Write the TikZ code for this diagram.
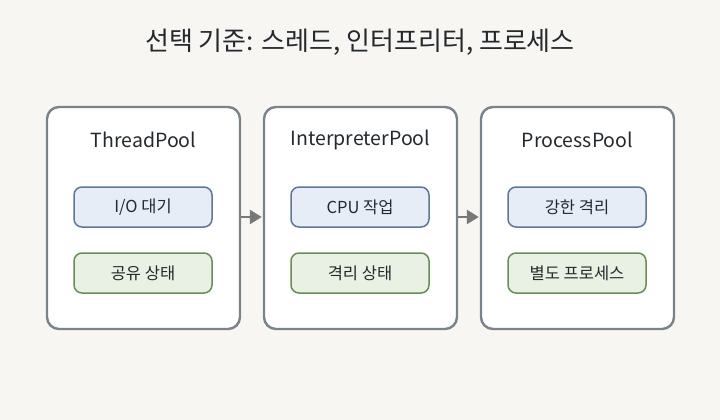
\documentclass[tikz,border=0pt]{standalone}
\usepackage{fontspec}
\setmainfont{Noto Sans CJK KR}
\usetikzlibrary{arrows.meta, positioning}

\definecolor{bgcol}{HTML}{F7F6F3}
\definecolor{panelline}{HTML}{7A838A}
\definecolor{ink}{HTML}{24292E}
\definecolor{bluefill}{HTML}{E6EDF6}
\definecolor{blueline}{HTML}{5E7799}
\definecolor{greenfill}{HTML}{E9F1E4}
\definecolor{greenline}{HTML}{6A8C56}
\definecolor{arrowcol}{HTML}{787878}

\tikzset{
  pool/.style={draw=panelline, line width=2.4pt, fill=white, rounded corners=12pt,
    minimum width=193pt, minimum height=222pt},
  poolname/.style={text=ink, font=\fontsize{19.5}{23}\selectfont},
  bluebox/.style={draw=blueline, line width=1.5pt, fill=bluefill, rounded corners=8pt,
    minimum width=138pt, minimum height=40pt, text=ink, font=\fontsize{16.5}{19}\selectfont},
  greenbox/.style={bluebox, draw=greenline, fill=greenfill},
  link/.style={draw=arrowcol, line width=2.5pt, -{Triangle[length=12pt, width=14pt]}, shorten >=1pt}
}

\begin{document}
\begin{tikzpicture}[x=1pt, y=-1pt]
    \fill[bgcol] (0,0) rectangle (720,420);
    \useasboundingbox (0,0) rectangle (720,420);

    \node[text=ink, font=\fontsize{26}{30}\selectfont] (title) at (360,42) {선택 기준: 스레드, 인터프리터, 프로세스};

    % ThreadPool
    \node[pool] (thread) at (143.5,218) {};
    \node[poolname] (threadname) at (143.5,140) {ThreadPool};
    \node[bluebox] (io) at (143,207) {I/O 대기};
    \node[greenbox] (shared) at (143,273) {공유 상태};

    % InterpreterPool
    \node[pool] (interp) at (360.5,218) {};
    \node[poolname] (interpname) at (360.5,140) {InterpreterPool};
    \node[bluebox] (cpu) at (360,207) {CPU 작업};
    \node[greenbox] (isolated) at (360,273) {격리 상태};

    % ProcessPool
    \node[pool] (proc) at (577.5,218) {};
    \node[poolname] (procname) at (577.5,140) {ProcessPool};
    \node[bluebox] (strong) at (577,207) {강한 격리};
    \node[greenbox] (separate) at (577,273) {별도 프로세스};

    \draw[link] (thread.east |- 0,217) -- (interp.west |- 0,217);
    \draw[link] (interp.east |- 0,217) -- (proc.west |- 0,217);
\end{tikzpicture}
\end{document}
